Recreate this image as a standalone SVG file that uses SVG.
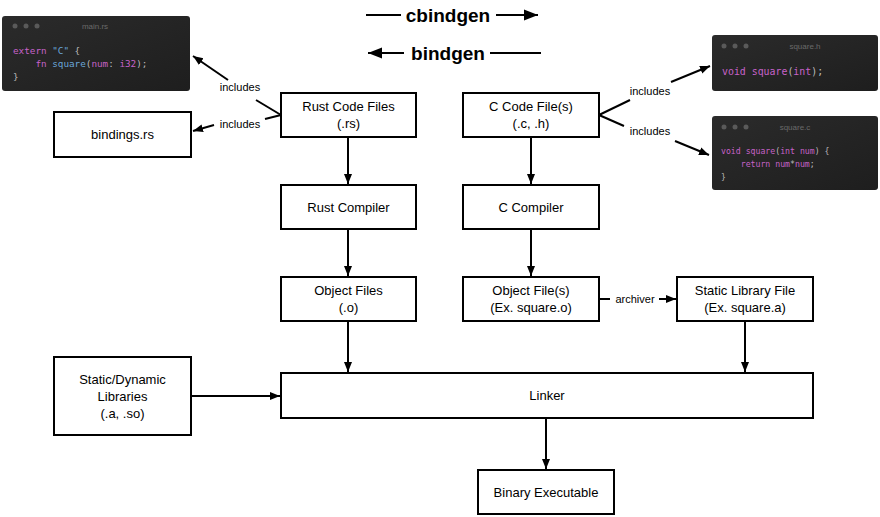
<svg xmlns="http://www.w3.org/2000/svg" width="880" height="517" viewBox="0 0 880 517">
<defs>
<marker id="ah" viewBox="0 0 10 10" refX="10" refY="5" markerWidth="10" markerHeight="10" markerUnits="userSpaceOnUse" orient="auto"><path d="M0,1 L10,5 L0,9 z" fill="#000"/></marker>
<marker id="ahb" viewBox="0 0 10 10" refX="10" refY="5" markerWidth="16" markerHeight="14" markerUnits="userSpaceOnUse" orient="auto"><path d="M0,1 L10,5 L0,9 z" fill="#000"/></marker>
<linearGradient id="pg" x1="0" y1="0" x2="1" y2="1"><stop offset="0" stop-color="#2b2b2b"/><stop offset="1" stop-color="#1e1e1e"/></linearGradient>
</defs>
<style>
.box{fill:#fff;stroke:#000;stroke-width:2}
.t{font-family:"Liberation Sans",Arial,sans-serif;font-size:13px;fill:#000;text-anchor:middle}
.lbl{font-family:"Liberation Sans",Arial,sans-serif;font-size:11px;fill:#000;text-anchor:middle}
.big{font-family:"Liberation Sans",Arial,sans-serif;font-size:19px;font-weight:bold;fill:#000;text-anchor:middle}
.e{stroke:#000;stroke-width:2;fill:none}
.panel{fill:url(#pg)}
.dot{fill:#5a5a5a}
.ttl{font-family:"Liberation Sans",Arial,sans-serif;font-size:8px;fill:#6a6a6a;text-anchor:middle}
.code{font-family:"DejaVu Sans Mono","Liberation Mono",monospace;font-size:9.3px;fill:#bbbbbb;white-space:pre}
.kw{fill:#c762c9}
.fn{fill:#6aa6d8}
.str{fill:#6aa6d8}
</style>

<g id="main-rs">
<rect class="panel" x="2" y="16" width="188" height="75" rx="3"/>
<circle class="dot" cx="15" cy="26" r="2.5"/><circle class="dot" cx="26" cy="26" r="2.5"/><circle class="dot" cx="37" cy="26" r="2.5"/>
<text class="ttl" x="95" y="29">main.rs</text>
<text class="code" x="13" y="54" xml:space="preserve"><tspan class="kw">extern</tspan> <tspan class="str">"C"</tspan> {</text>
<text class="code" x="13" y="67" xml:space="preserve">    <tspan class="kw">fn</tspan> <tspan class="fn">square</tspan>(<tspan class="kw">num</tspan>: <tspan class="kw">i32</tspan>);</text>
<text class="code" x="13" y="80">}</text>
</g>

<g id="square-h">
<rect class="panel" x="712" y="35" width="166" height="56" rx="3"/>
<circle class="dot" cx="724" cy="46" r="2.5"/><circle class="dot" cx="735" cy="46" r="2.5"/><circle class="dot" cx="746" cy="46" r="2.5"/>
<text class="ttl" x="805" y="49">square.h</text>
<text class="code" x="722" y="75" style="font-size:9.9px" xml:space="preserve"><tspan class="kw">void</tspan> <tspan class="kw">square</tspan>(<tspan class="kw">int</tspan>);</text>
</g>

<g id="square-c">
<rect class="panel" x="712" y="116" width="166" height="74" rx="3"/>
<circle class="dot" cx="724" cy="127" r="2.5"/><circle class="dot" cx="735" cy="127" r="2.5"/><circle class="dot" cx="746" cy="127" r="2.5"/>
<text class="ttl" x="795" y="130">square.c</text>
<text class="code" x="721" y="154" style="font-size:8.2px" xml:space="preserve"><tspan class="kw">void</tspan> <tspan class="kw">square</tspan>(<tspan class="kw">int</tspan> <tspan class="kw">num</tspan>) {</text>
<text class="code" x="721" y="167" style="font-size:8.2px" xml:space="preserve">    <tspan class="kw">return</tspan> <tspan class="kw">num</tspan>*<tspan class="kw">num</tspan>;</text>
<text class="code" x="721" y="180" style="font-size:8.2px">}</text>
</g>

<g id="legend">
<line class="e" x1="366" y1="15" x2="401" y2="15" stroke-width="3"/>
<text class="big" x="448" y="22">cbindgen</text>
<line class="e" x1="496" y1="15" x2="538" y2="15" stroke-width="3" marker-end="url(#ahb)"/>
<line class="e" x1="404" y1="53" x2="368" y2="53" stroke-width="3" marker-end="url(#ahb)"/>
<text class="big" x="448" y="60">bindgen</text>
<line class="e" x1="490" y1="53" x2="541" y2="53" stroke-width="3"/>
</g>

<g id="rust-code">
<rect class="box" x="281" y="93" width="135" height="44"/>
<text class="t" x="348.5" y="111">Rust Code Files</text>
<text class="t" x="348.5" y="128">(.rs)</text>
</g>
<g id="c-code">
<rect class="box" x="463" y="93" width="136" height="44"/>
<text class="t" x="531" y="111">C Code File(s)</text>
<text class="t" x="531" y="128">(.c, .h)</text>
</g>
<g id="bindings">
<rect class="box" x="54" y="112" width="137" height="45"/>
<text class="t" x="122.5" y="139">bindings.rs</text>
</g>
<g id="rust-compiler">
<rect class="box" x="281" y="185" width="135" height="44"/>
<text class="t" x="348.5" y="212">Rust Compiler</text>
</g>
<g id="c-compiler">
<rect class="box" x="463" y="185" width="136" height="44"/>
<text class="t" x="531" y="212">C Compiler</text>
</g>
<g id="object-files">
<rect class="box" x="281" y="277" width="135" height="44"/>
<text class="t" x="348.5" y="295">Object Files</text>
<text class="t" x="348.5" y="312">(.o)</text>
</g>
<g id="c-object-files">
<rect class="box" x="463" y="277" width="136" height="44"/>
<text class="t" x="531" y="295">Object File(s)</text>
<text class="t" x="531" y="312">(Ex. square.o)</text>
</g>
<g id="static-lib">
<rect class="box" x="677" y="277" width="136" height="44"/>
<text class="t" x="745" y="295">Static Library File</text>
<text class="t" x="745" y="312">(Ex. square.a)</text>
</g>
<g id="libs">
<rect class="box" x="54" y="357" width="137" height="78"/>
<text class="t" x="122.5" y="384">Static/Dynamic</text>
<text class="t" x="122.5" y="401">Libraries</text>
<text class="t" x="122.5" y="418">(.a, .so)</text>
</g>
<g id="linker">
<rect class="box" x="281" y="373" width="532" height="45"/>
<text class="t" x="547" y="400">Linker</text>
</g>
<g id="binary">
<rect class="box" x="478" y="470" width="136" height="44"/>
<text class="t" x="546" y="497">Binary Executable</text>
</g>

<g id="connectors">
<line class="e" x1="348" y1="137" x2="348" y2="184" marker-end="url(#ah)"/>
<line class="e" x1="531" y1="137" x2="531" y2="184" marker-end="url(#ah)"/>
<line class="e" x1="348" y1="229" x2="348" y2="276" marker-end="url(#ah)"/>
<line class="e" x1="531" y1="229" x2="531" y2="276" marker-end="url(#ah)"/>
<line class="e" x1="348" y1="321" x2="348" y2="372" marker-end="url(#ah)"/>
<line class="e" x1="745" y1="321" x2="745" y2="372" marker-end="url(#ah)"/>
<line class="e" x1="546" y1="418" x2="546" y2="469" marker-end="url(#ah)"/>
<line class="e" x1="191" y1="396" x2="280" y2="396" marker-end="url(#ah)"/>
<line class="e" x1="599" y1="299" x2="610" y2="299"/>
<text class="lbl" x="635" y="303">archiver</text>
<line class="e" x1="659" y1="299" x2="676" y2="299" marker-end="url(#ah)"/>
<line class="e" x1="281" y1="115" x2="256" y2="100"/>
<line class="e" x1="228" y1="80" x2="193" y2="56" marker-end="url(#ah)"/>
<text class="lbl" x="240" y="91">includes</text>
<line class="e" x1="281" y1="115" x2="265" y2="119"/>
<line class="e" x1="214" y1="125" x2="193" y2="131" marker-end="url(#ah)"/>
<text class="lbl" x="240" y="128">includes</text>
<line class="e" x1="599" y1="115" x2="630" y2="100"/>
<line class="e" x1="671" y1="82" x2="710" y2="66" marker-end="url(#ah)"/>
<text class="lbl" x="650" y="95">includes</text>
<line class="e" x1="599" y1="115" x2="624" y2="126"/>
<line class="e" x1="675" y1="141" x2="709" y2="155" marker-end="url(#ah)"/>
<text class="lbl" x="650" y="135">includes</text>
</g>
</svg>
